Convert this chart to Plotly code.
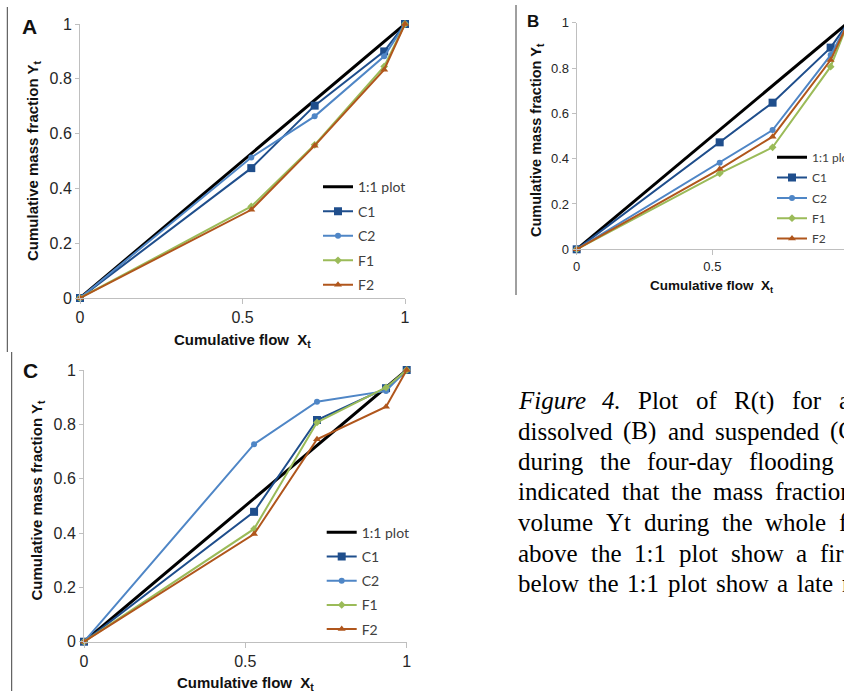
import plotly.graph_objects as go

# ---------------- data ----------------
X = [0, 0.527, 0.722, 0.936, 1]
ONE_X = [0, 1]
ONE_Y = [0, 1]

A_C1 = [0, 0.474, 0.702, 0.900, 1]
A_C2 = [0, 0.513, 0.663, 0.882, 1]
A_F1 = [0, 0.334, 0.559, 0.845, 1]
A_F2 = [0, 0.322, 0.556, 0.833, 1]

B_C1 = [0, 0.472, 0.647, 0.890, 1]
B_C2 = [0, 0.382, 0.526, 0.857, 1]
B_F1 = [0, 0.335, 0.450, 0.806, 1]
B_F2 = [0, 0.354, 0.497, 0.835, 1]

C_C1 = [0, 0.478, 0.816, 0.933, 1]
C_C2 = [0, 0.727, 0.883, 0.923, 1]
C_F1 = [0, 0.415, 0.807, 0.936, 1]
C_F2 = [0, 0.396, 0.745, 0.865, 1]

SERIES = ["1:1 plot", "C1", "C2", "F1", "F2"]
Y_TICKS = [0, 0.2, 0.4, 0.6, 0.8, 1]
Y_TICKTEXT = ["0", "0.2", "0.4", "0.6", "0.8", "1"]
X_TICKS = [0, 0.5, 1]
X_TICKTEXT = ["0", "0.5", "1"]

# caption lines (justified text, clipped by the right edge); last number = x of the last word
CAPTION = [
    (["Figure", "4.", "Plot", "of", "R(t)", "for", "a"], 836.7),
    (["dissolved", "(B)", "and", "suspended", "(C)"], 828),
    (["during", "the", "four-day", "flooding"], 747),
    (["indicated", "that", "the", "mass", "fraction"], 773.3),
    (["volume", "Yt", "during", "the", "whole", "flood"], 836.7),
    (["above", "the", "1:1", "plot", "show", "a", "first"], 818.3),
    (["below", "the", "1:1", "plot", "show", "a", "late", "release"], 840),
]
CAPTION_Y = [400.5, 431, 461, 491.5, 522.5, 553, 583.5]
ITALIC_WORDS = {"Figure", "4."}

# ---------------- style ----------------
W, H = 844, 691
COLORS = {"1:1 plot": "#000000", "C1": "#1F4E8C", "C2": "#4F86C6", "F1": "#9BBB59", "F2": "#B0561C"}
SYMBOLS = {"C1": "square", "C2": "circle", "F1": "diamond", "F2": "triangle-up"}
MSIZE = {"C1": 8, "C2": 6, "F1": 6, "F2": 7}
AXCOL = "#BFBFBF"
TXT = "#262626"
CAP_FS = 25

# Times-compatible advance widths (per 1000 em) used to justify caption words
TW = dict(zip("abcdefghijklmnopqrstuvwxyz",
              [444, 500, 444, 500, 444, 333, 500, 500, 278, 278, 500, 278, 778, 500, 500, 500, 500, 333, 389, 278, 500, 500, 722, 500, 500, 444]))
TW.update({"(": 333, ")": 333, ".": 250, ":": 278, "-": 333, "1": 500, "4": 500,
           "B": 667, "C": 667, "F": 611, "P": 556, "R": 667, "Y": 722})

def wwidth(w):
    return sum(TW.get(c, 500) for c in w) / 1000.0 * CAP_FS

def px_x(p):
    return p / W

def px_y(p):
    return 1 - p / H

fig = go.Figure()

panels = [
    ("A", "x", "y", "legend", [A_C1, A_C2, A_F1, A_F2]),
    ("B", "x2", "y2", "legend2", [B_C1, B_C2, B_F1, B_F2]),
    ("C", "x3", "y3", "legend3", [C_C1, C_C2, C_F1, C_F2]),
]

for tag, xa, ya, lg, vals in panels:
    fig.add_trace(go.Scatter(
        x=ONE_X, y=ONE_Y, mode="lines", name="1:1 plot",
        line=dict(color=COLORS["1:1 plot"], width=3),
        xaxis=xa, yaxis=ya, legend=lg, legendgroup=tag + "0", cliponaxis=False))
    for i, (nm, yv) in enumerate(zip(SERIES[1:], vals)):
        fig.add_trace(go.Scatter(
            x=X, y=yv, mode="lines+markers", name=nm,
            line=dict(color=COLORS[nm], width=2),
            marker=dict(symbol=SYMBOLS[nm], size=MSIZE[nm], color=COLORS[nm]),
            xaxis=xa, yaxis=ya, legend=lg, legendgroup=tag + str(i + 1), cliponaxis=False))

def xaxis(domain, rng, fs, anchor):
    return dict(domain=domain, range=rng, anchor=anchor, showline=True, linecolor=AXCOL, linewidth=1,
                showgrid=False, zeroline=False, ticks="outside", ticklen=5, tickcolor=AXCOL,
                tickmode="array", tickvals=X_TICKS, ticktext=X_TICKTEXT,
                tickfont=dict(family="Liberation Sans", size=fs, color=TXT), fixedrange=True)

def yaxis(domain, fs, anchor):
    return dict(domain=domain, range=[0, 1], anchor=anchor, showline=True, linecolor=AXCOL, linewidth=1,
                showgrid=False, zeroline=False, ticks="outside", ticklen=4, tickcolor=AXCOL,
                tickmode="array", tickvals=Y_TICKS, ticktext=Y_TICKTEXT,
                tickfont=dict(family="Liberation Sans", size=fs, color=TXT), fixedrange=True)

B_x0, B_x1 = 576.7, 848.0
fig.update_layout(
    width=W, height=H,
    margin=dict(l=0, r=0, t=0, b=0, autoexpand=False),
    paper_bgcolor="white", plot_bgcolor="white",
    showlegend=True,
    xaxis=xaxis([px_x(80), px_x(405)], [0, 1], 16, "y"),
    yaxis=yaxis([px_y(298), px_y(24)], 16, "x"),
    xaxis2=xaxis([px_x(B_x0), 1.0], [0, (W - B_x0) / (B_x1 - B_x0)], 13, "y2"),
    yaxis2=yaxis([px_y(249.3), px_y(22.7)], 13, "x2"),
    xaxis3=xaxis([px_x(84), px_x(406.7)], [0, 1], 16, "y3"),
    yaxis3=yaxis([px_y(641.7), px_y(370)], 16, "x3"),
    legend=dict(x=px_x(318), y=px_y(171.2), xanchor="left", yanchor="top", bgcolor="rgba(0,0,0,0)",
                font=dict(family="Lato", size=14, color="#404040"), tracegroupgap=3.3,
                traceorder="grouped", itemwidth=30),
    legend2=dict(x=px_x(772), y=px_y(142.8), xanchor="left", yanchor="top", bgcolor="rgba(0,0,0,0)",
                 font=dict(family="Lato", size=12, color="#404040"), tracegroupgap=1.3,
                 traceorder="grouped", itemwidth=30),
    legend3=dict(x=px_x(321.7), y=px_y(516.7), xanchor="left", yanchor="top", bgcolor="rgba(0,0,0,0)",
                 font=dict(family="Lato", size=14, color="#404040"), tracegroupgap=3,
                 traceorder="grouped", itemwidth=30),
)

ann = []
def label(text, x, y, size, bold=True, angle=0, family="Liberation Sans", color="#111111", xanchor="center"):
    t = "<b>%s</b>" % text if bold else text
    ann.append(dict(text=t, x=px_x(x), y=px_y(y), xref="paper", yref="paper", showarrow=False,
                    xanchor=xanchor, yanchor="middle", textangle=angle,
                    font=dict(family=family, size=size, color=color)))

# panel letters
label("A", 29, 27, 21)
label("B", 532.5, 21, 17)
label("C", 31, 370.5, 21)
# axis titles
label("Cumulative mass fraction Y<sub>t</sub>", 33, 161, 15, angle=-90)
label("Cumulative flow&nbsp; X<sub>t</sub>", 242.5, 340, 15)
label("Cumulative mass fraction Y<sub>t</sub>", 537, 140, 14.5, angle=-90)
label("Cumulative flow&nbsp; X<sub>t</sub>", 712, 286, 13.5)
label("Cumulative mass fraction Y<sub>t</sub>", 36.5, 501, 15, angle=-90)
label("Cumulative flow&nbsp; X<sub>t</sub>", 245, 683, 15)

# caption, justified: evenly spread the words between x=516 and the last word's start
CAP_X0 = 516
for (words, last_x), yy in zip(CAPTION, CAPTION_Y):
    widths = [wwidth(w) for w in words[:-1]]
    gap = (last_x - CAP_X0 - sum(widths)) / (len(words) - 1)
    xx = CAP_X0
    for j, w in enumerate(words):
        txt = "<i>%s</i>" % w if w in ITALIC_WORDS else w
        label(txt, xx, yy, CAP_FS, bold=False, family="Liberation Serif", color="#000000", xanchor="left")
        if j < len(widths):
            xx += widths[j] + gap

fig.update_layout(annotations=ann)

shapes = []
for (x0, y0, x1, y1) in [(7.3, 7, 7.3, 352), (11.7, 352, 11.7, 691), (516, 5, 516, 295)]:
    shapes.append(dict(type="line", xref="paper", yref="paper", x0=px_x(x0), x1=px_x(x1),
                       y0=px_y(y0), y1=px_y(y1), line=dict(color="#404040", width=1)))
fig.update_layout(shapes=shapes)

fig.write_html("out.html", config={"displayModeBar": False},
               post_script="document.body.style.margin='0px';document.body.style.overflow='hidden';")
